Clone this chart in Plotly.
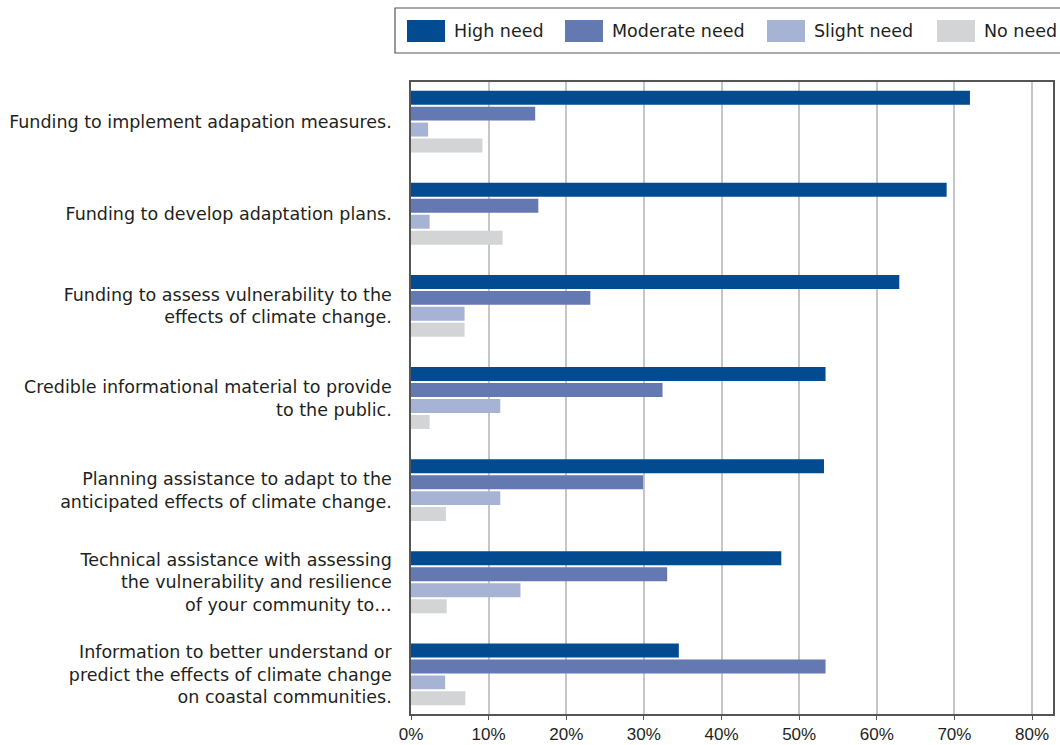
import plotly.graph_objects as go

# Survey responses: share of respondents reporting each level of need (%)
categories = [
    "Funding to implement adapation measures.",
    "Funding to develop adaptation plans.",
    "Funding to assess vulnerability to the<br>effects of climate change.",
    "Credible informational material to provide<br>to the public.",
    "Planning assistance to adapt to the<br>anticipated effects of climate change.",
    "Technical assistance with assessing<br>the vulnerability and resilience<br>of your community to…",
    "Information to better understand or<br>predict the effects of climate change<br>on coastal communities.",
]
high_need = [72.0, 69.0, 62.9, 53.4, 53.2, 47.7, 34.5]
moderate_need = [16.0, 16.4, 23.1, 32.4, 29.9, 33.0, 53.4]
slight_need = [2.2, 2.4, 6.9, 11.5, 11.5, 14.1, 4.4]
no_need = [9.2, 11.8, 6.9, 2.4, 4.5, 4.6, 7.0]

series_names = ["High need", "Moderate need", "Slight need", "No need"]
series_values = [high_need, moderate_need, slight_need, no_need]
series_colors = ["#024b90", "#6479b1", "#a6b3d5", "#d3d4d6"]

x_ticks = [0, 10, 20, 30, 40, 50, 60, 70, 80]
x_tick_labels = [f"{v}%" for v in x_ticks]

LABEL_FONT = "DejaVu Sans, Verdana, sans-serif"
TICK_FONT = "Liberation Sans, Arial, sans-serif"
TEXT = "#231f20"
W, H = 1060, 745
ML, MR, MT, MB = 411, 7, 82, 31

fig = go.Figure()
for name, vals, col in zip(series_names, series_values, series_colors):
    fig.add_trace(go.Bar(
        y=categories, x=vals, name=name, orientation="h",
        marker=dict(color=col, line=dict(width=0)),
        showlegend=False,
    ))

# legend drawn as a boxed row of large swatches above the plot
pw, ph = W - ML - MR, H - MT - MB
def px_x(px):
    return (px - ML) / pw
def px_y(py):
    return (H - MB - py) / ph

shapes = [dict(type="rect", xref="paper", yref="paper",
               x0=px_x(395), x1=px_x(1068), y0=px_y(53), y1=px_y(8),
               line=dict(color="#555555", width=1.2), fillcolor="white")]
annotations = []
swatch_left = [407, 565, 767, 937]
for name, col, sx in zip(series_names, series_colors, swatch_left):
    shapes.append(dict(type="rect", xref="paper", yref="paper",
                       x0=px_x(sx), x1=px_x(sx + 38), y0=px_y(42), y1=px_y(20),
                       line=dict(width=0), fillcolor=col))
    annotations.append(dict(xref="paper", yref="paper", x=px_x(sx + 45), y=px_y(31),
                            text=name, showarrow=False, xanchor="left", yanchor="middle",
                            font=dict(family=LABEL_FONT, size=17.5, color=TEXT)))

fig.update_layout(
    width=W, height=H,
    margin=dict(l=ML, r=MR, t=MT, b=MB, autoexpand=False),
    paper_bgcolor="white", plot_bgcolor="white",
    barmode="group", bargap=0.307, bargroupgap=0.125,
    font=dict(family=LABEL_FONT, size=17.5, color=TEXT),
    shapes=shapes, annotations=annotations,
    showlegend=False,
)
fig.update_xaxes(
    range=[0, 82.7], tickvals=x_ticks, ticktext=x_tick_labels,
    showgrid=True, gridcolor="#c6c6ca", gridwidth=1.5,
    showline=True, linecolor="#555555", linewidth=1.5, mirror=True,
    ticks="outside", ticklen=4, tickcolor="#555555",
    ticklabelstandoff=0, automargin=False,
    tickfont=dict(family=TICK_FONT, size=17, color=TEXT),
    zeroline=False,
)
fig.update_yaxes(
    range=[6.43, -0.43], type="category", automargin=False,
    showgrid=False, showline=True, linecolor="#555555", linewidth=1.5, mirror=True,
    ticks="", ticklabelstandoff=14,
    tickfont=dict(family=LABEL_FONT, size=17.5, color=TEXT),
)

fig.write_html("out.html")
